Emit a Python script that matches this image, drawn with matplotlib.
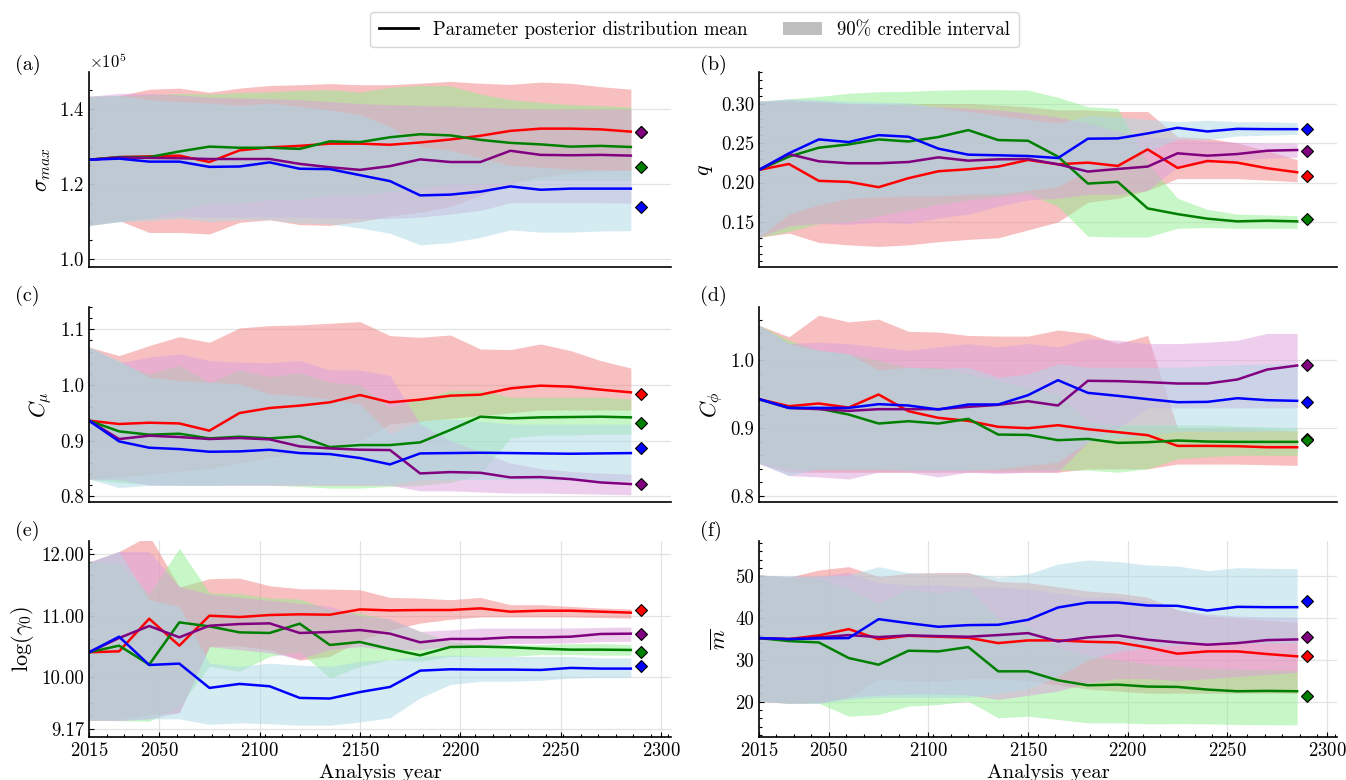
import numpy as np
import matplotlib
matplotlib.use("Agg")
import matplotlib.pyplot as plt
from matplotlib.lines import Line2D
from matplotlib.patches import Patch
from matplotlib.ticker import AutoMinorLocator, MultipleLocator, ScalarFormatter

plt.rcParams.update({
    "font.family": "serif",
    "font.serif": ["cmr10"],
    "mathtext.fontset": "cm",
    "axes.formatter.use_mathtext": True,
    "axes.unicode_minus": False,
})

# ---------------------------------------------------------------- data
years = [2015, 2030, 2045, 2060, 2075, 2090, 2105, 2120, 2135, 2150,
         2165, 2180, 2195, 2210, 2225, 2240, 2255, 2270, 2285]
truth_year = 2290
scenarios = ["red", "green", "purple", "blue"]

# (a) sigma_max, in units of 1e5
sigma_scale = 1e5
sigma_mean = {
    "red":    [1.265, 1.272, 1.274, 1.276, 1.259, 1.290, 1.298, 1.302, 1.308, 1.308, 1.305, 1.311, 1.319, 1.329, 1.342, 1.348, 1.348, 1.346, 1.340],
    "green":  [1.265, 1.272, 1.272, 1.287, 1.300, 1.297, 1.297, 1.294, 1.314, 1.312, 1.325, 1.333, 1.330, 1.318, 1.310, 1.306, 1.300, 1.302, 1.299],
    "purple": [1.265, 1.271, 1.270, 1.269, 1.267, 1.267, 1.267, 1.254, 1.245, 1.238, 1.248, 1.266, 1.259, 1.259, 1.289, 1.278, 1.277, 1.278, 1.276],
    "blue":   [1.265, 1.268, 1.260, 1.260, 1.246, 1.247, 1.258, 1.241, 1.240, 1.224, 1.208, 1.170, 1.172, 1.180, 1.194, 1.185, 1.188, 1.188, 1.188],
}
sigma_hi = {
    "red":    [1.434, 1.436, 1.453, 1.456, 1.445, 1.456, 1.463, 1.465, 1.468, 1.465, 1.465, 1.469, 1.474, 1.469, 1.466, 1.472, 1.469, 1.460, 1.453],
    "green":  [1.434, 1.436, 1.438, 1.442, 1.440, 1.444, 1.446, 1.450, 1.452, 1.445, 1.458, 1.463, 1.462, 1.440, 1.425, 1.418, 1.412, 1.409, 1.406],
    "purple": [1.434, 1.442, 1.442, 1.438, 1.432, 1.430, 1.428, 1.425, 1.420, 1.415, 1.412, 1.410, 1.408, 1.405, 1.402, 1.400, 1.400, 1.400, 1.400],
    "blue":   [1.434, 1.436, 1.425, 1.420, 1.416, 1.410, 1.416, 1.407, 1.398, 1.385, 1.354, 1.300, 1.290, 1.270, 1.250, 1.245, 1.240, 1.238, 1.237],
}
sigma_lo = {
    "red":    [1.090, 1.103, 1.071, 1.071, 1.067, 1.098, 1.105, 1.092, 1.090, 1.100, 1.115, 1.125, 1.140, 1.170, 1.200, 1.220, 1.230, 1.235, 1.237],
    "green":  [1.090, 1.100, 1.110, 1.130, 1.150, 1.150, 1.160, 1.160, 1.170, 1.170, 1.180, 1.190, 1.200, 1.200, 1.205, 1.210, 1.210, 1.210, 1.210],
    "purple": [1.090, 1.100, 1.110, 1.115, 1.112, 1.112, 1.112, 1.112, 1.110, 1.108, 1.108, 1.112, 1.120, 1.130, 1.150, 1.150, 1.150, 1.150, 1.149],
    "blue":   [1.090, 1.100, 1.103, 1.109, 1.100, 1.105, 1.105, 1.096, 1.094, 1.083, 1.069, 1.038, 1.044, 1.058, 1.078, 1.072, 1.072, 1.075, 1.076],
}
sigma_true = {"red": 1.340, "green": 1.245, "purple": 1.340, "blue": 1.140}

# (b) q
q_mean = {
    "red":    [0.216, 0.2235, 0.2021, 0.2008, 0.1941, 0.2055, 0.2143, 0.2168, 0.2202, 0.2286, 0.2231, 0.2252, 0.2210, 0.2420, 0.2185, 0.2273, 0.2252, 0.2181, 0.2130],
    "green":  [0.216, 0.2328, 0.2441, 0.2483, 0.2546, 0.2520, 0.2576, 0.2664, 0.2538, 0.2529, 0.2328, 0.1987, 0.2008, 0.1672, 0.1600, 0.1542, 0.1508, 0.1517, 0.1508],
    "purple": [0.216, 0.2361, 0.2269, 0.2244, 0.2244, 0.2260, 0.2319, 0.2277, 0.2294, 0.2298, 0.2231, 0.2139, 0.2172, 0.2202, 0.2370, 0.2340, 0.2361, 0.2403, 0.2412],
    "blue":   [0.216, 0.2370, 0.2546, 0.2513, 0.2600, 0.2580, 0.2429, 0.2353, 0.2345, 0.2336, 0.2310, 0.2555, 0.2559, 0.2622, 0.2693, 0.2647, 0.2680, 0.2676, 0.2676],
}
q_hi = {
    "red":    [0.303, 0.303, 0.302, 0.300, 0.298, 0.300, 0.300, 0.300, 0.298, 0.296, 0.292, 0.292, 0.290, 0.290, 0.258, 0.256, 0.250, 0.240, 0.229],
    "green":  [0.303, 0.306, 0.309, 0.313, 0.315, 0.3155, 0.317, 0.3176, 0.3176, 0.317, 0.308, 0.296, 0.294, 0.225, 0.180, 0.166, 0.160, 0.159, 0.158],
    "purple": [0.303, 0.305, 0.303, 0.300, 0.300, 0.298, 0.296, 0.294, 0.292, 0.288, 0.283, 0.275, 0.265, 0.258, 0.255, 0.253, 0.251, 0.250, 0.250],
    "blue":   [0.303, 0.306, 0.305, 0.303, 0.302, 0.301, 0.295, 0.290, 0.285, 0.280, 0.275, 0.285, 0.283, 0.280, 0.277, 0.279, 0.277, 0.277, 0.276],
}
q_lo = {
    "red":    [0.1307, 0.136, 0.124, 0.121, 0.119, 0.121, 0.125, 0.128, 0.130, 0.140, 0.150, 0.175, 0.180, 0.190, 0.205, 0.205, 0.205, 0.203, 0.201],
    "green":  [0.1307, 0.138, 0.148, 0.150, 0.158, 0.165, 0.172, 0.178, 0.182, 0.186, 0.170, 0.132, 0.131, 0.131, 0.142, 0.143, 0.142, 0.142, 0.142],
    "purple": [0.1307, 0.145, 0.148, 0.147, 0.150, 0.148, 0.155, 0.160, 0.170, 0.178, 0.180, 0.185, 0.185, 0.190, 0.220, 0.225, 0.228, 0.231, 0.232],
    "blue":   [0.1307, 0.160, 0.172, 0.180, 0.182, 0.183, 0.183, 0.185, 0.185, 0.190, 0.195, 0.215, 0.225, 0.240, 0.255, 0.254, 0.259, 0.260, 0.261],
}
q_true = {"red": 0.2084, "green": 0.1538, "purple": 0.2403, "blue": 0.268}

# (c) C_mu
cmu_mean = {
    "red":    [0.936, 0.930, 0.9323, 0.931, 0.918, 0.9497, 0.9587, 0.963, 0.9689, 0.982, 0.9689, 0.9737, 0.9808, 0.9826, 0.994, 0.9988, 0.997, 0.9916, 0.9868],
    "green":  [0.936, 0.9168, 0.9108, 0.9126, 0.9042, 0.9072, 0.9042, 0.9078, 0.8886, 0.8922, 0.8922, 0.897, 0.9192, 0.9431, 0.9401, 0.9419, 0.9425, 0.9431, 0.9419],
    "purple": [0.936, 0.903, 0.909, 0.9066, 0.903, 0.9048, 0.9024, 0.8898, 0.8862, 0.8838, 0.8832, 0.8413, 0.8437, 0.8425, 0.8341, 0.8347, 0.8311, 0.8251, 0.8222],
    "blue":   [0.936, 0.8988, 0.8874, 0.885, 0.8802, 0.8808, 0.8838, 0.8778, 0.876, 0.8689, 0.8575, 0.8772, 0.8778, 0.8784, 0.8778, 0.8772, 0.8766, 0.8772, 0.8778],
}
cmu_hi = {
    "red":    [1.068, 1.0527, 1.0707, 1.0868, 1.0766, 1.1024, 1.1066, 1.1078, 1.1108, 1.1138, 1.0886, 1.0856, 1.0898, 1.0647, 1.0635, 1.0737, 1.0617, 1.0437, 1.0305],
    "green":  [1.068, 1.040, 1.020, 1.035, 1.005, 1.027, 1.015, 1.022, 1.005, 1.000, 0.960, 0.975, 0.990, 0.990, 0.978, 0.978, 0.978, 0.978, 0.975],
    "purple": [1.068, 1.040, 1.050, 1.056, 1.044, 1.041, 1.040, 1.044, 1.027, 1.027, 1.017, 0.930, 0.900, 0.880, 0.860, 0.850, 0.845, 0.842, 0.840],
    "blue":   [1.068, 1.044, 1.014, 1.008, 1.005, 1.002, 0.984, 0.981, 0.975, 0.966, 0.912, 0.936, 0.939, 0.935, 0.930, 0.930, 0.930, 0.930, 0.930],
}
cmu_lo = {
    "red":    [0.831, 0.835, 0.840, 0.845, 0.850, 0.860, 0.870, 0.880, 0.890, 0.900, 0.930, 0.935, 0.940, 0.945, 0.950, 0.955, 0.955, 0.955, 0.955],
    "green":  [0.831, 0.825, 0.822, 0.820, 0.820, 0.820, 0.820, 0.818, 0.815, 0.815, 0.818, 0.820, 0.825, 0.840, 0.905, 0.910, 0.910, 0.912, 0.912],
    "purple": [0.831, 0.830, 0.820, 0.820, 0.820, 0.820, 0.820, 0.820, 0.820, 0.820, 0.820, 0.810, 0.810, 0.808, 0.806, 0.806, 0.805, 0.804, 0.803],
    "blue":   [0.831, 0.816, 0.820, 0.820, 0.820, 0.822, 0.822, 0.822, 0.822, 0.822, 0.822, 0.830, 0.830, 0.830, 0.830, 0.830, 0.829, 0.828, 0.828],
}
cmu_true = {"red": 0.9838, "green": 0.9311, "purple": 0.8222, "blue": 0.8868}

# (d) C_phi
cphi_mean = {
    "red":    [0.9429, 0.9325, 0.9365, 0.9305, 0.9498, 0.9251, 0.9153, 0.9108, 0.902, 0.900, 0.9044, 0.8985, 0.8941, 0.8897, 0.8739, 0.8739, 0.8734, 0.8719, 0.8719],
    "green":  [0.9429, 0.930, 0.929, 0.9202, 0.9069, 0.9103, 0.9069, 0.9138, 0.8906, 0.8901, 0.8823, 0.8842, 0.8783, 0.8793, 0.8818, 0.8803, 0.8798, 0.8798, 0.8798],
    "purple": [0.9429, 0.930, 0.9281, 0.9256, 0.9281, 0.9281, 0.9281, 0.9315, 0.9345, 0.9399, 0.9335, 0.970, 0.9695, 0.968, 0.966, 0.966, 0.9719, 0.9867, 0.9926],
    "blue":   [0.9429, 0.930, 0.930, 0.930, 0.9355, 0.9335, 0.9276, 0.935, 0.935, 0.9488, 0.9709, 0.9522, 0.9478, 0.9429, 0.9384, 0.9389, 0.9443, 0.9414, 0.9404],
}
cphi_hi = {
    "red":    [1.052, 1.035, 1.067, 1.057, 1.061, 1.043, 1.042, 1.037, 1.036, 1.036, 1.045, 1.040, 1.025, 1.037, 0.900, 0.900, 0.900, 0.898, 0.896],
    "green":  [1.052, 1.030, 1.015, 1.010, 1.000, 0.990, 0.990, 0.980, 0.970, 0.960, 0.950, 0.910, 0.905, 0.905, 0.905, 0.905, 0.903, 0.902, 0.900],
    "purple": [1.052, 1.025, 1.027, 1.025, 1.020, 1.015, 1.020, 1.025, 1.020, 1.025, 1.020, 1.032, 1.030, 1.025, 1.025, 1.027, 1.030, 1.040, 1.040],
    "blue":   [1.052, 1.025, 1.015, 1.010, 0.986, 0.990, 0.988, 0.990, 0.975, 0.980, 0.995, 0.990, 0.990, 0.990, 0.990, 0.992, 0.994, 0.995, 0.995],
}
cphi_lo = {
    "red":    [0.848, 0.835, 0.835, 0.835, 0.835, 0.835, 0.835, 0.835, 0.835, 0.835, 0.835, 0.840, 0.840, 0.840, 0.847, 0.847, 0.847, 0.846, 0.845],
    "green":  [0.848, 0.840, 0.838, 0.838, 0.838, 0.838, 0.838, 0.838, 0.838, 0.838, 0.838, 0.838, 0.835, 0.840, 0.855, 0.858, 0.860, 0.860, 0.860],
    "purple": [0.848, 0.830, 0.828, 0.825, 0.835, 0.835, 0.828, 0.835, 0.833, 0.835, 0.835, 0.880, 0.900, 0.930, 0.930, 0.930, 0.930, 0.930, 0.930],
    "blue":   [0.848, 0.830, 0.840, 0.840, 0.840, 0.838, 0.838, 0.838, 0.840, 0.845, 0.850, 0.880, 0.885, 0.890, 0.895, 0.895, 0.895, 0.896, 0.896],
}
cphi_true = {"red": 0.884, "green": 0.8833, "purple": 0.9931, "blue": 0.9389}

# (e) log(gamma_0)
lg_mean = {
    "red":    [10.407, 10.423, 10.951, 10.515, 11.000, 10.978, 11.011, 11.022, 11.016, 11.102, 11.086, 11.092, 11.092, 11.119, 11.065, 11.081, 11.081, 11.065, 11.049],
    "green":  [10.407, 10.515, 10.208, 10.892, 10.827, 10.730, 10.720, 10.871, 10.526, 10.574, 10.461, 10.358, 10.493, 10.499, 10.488, 10.466, 10.450, 10.450, 10.445],
    "purple": [10.407, 10.639, 10.833, 10.650, 10.838, 10.865, 10.876, 10.720, 10.736, 10.768, 10.709, 10.569, 10.623, 10.623, 10.650, 10.650, 10.660, 10.704, 10.709],
    "blue":   [10.407, 10.660, 10.202, 10.224, 9.830, 9.895, 9.857, 9.668, 9.658, 9.763, 9.846, 10.110, 10.132, 10.127, 10.127, 10.121, 10.154, 10.143, 10.143],
}
lg_hi = {
    "red":    [11.868, 12.040, 12.300, 11.464, 11.598, 11.609, 11.485, 11.437, 11.431, 11.420, 11.296, 11.286, 11.259, 11.296, 11.178, 11.178, 11.151, 11.124, 11.108],
    "green":  [11.868, 11.850, 11.350, 12.094, 11.370, 11.356, 11.286, 11.270, 11.097, 11.040, 10.935, 10.747, 10.585, 10.531, 10.531, 10.531, 10.547, 10.547, 10.530],
    "purple": [11.868, 12.040, 12.040, 11.474, 11.350, 11.300, 11.250, 11.200, 11.150, 11.000, 10.950, 10.747, 10.770, 10.800, 10.800, 10.800, 10.800, 10.810, 10.817],
    "blue":   [11.868, 12.040, 11.260, 11.150, 10.230, 10.180, 10.230, 10.200, 10.180, 10.260, 10.290, 10.340, 10.360, 10.340, 10.340, 10.340, 10.340, 10.315, 10.315],
}
lg_lo = {
    "red":    [9.307, 9.318, 9.400, 9.430, 10.500, 10.510, 10.450, 10.280, 10.340, 10.600, 10.770, 10.880, 10.940, 10.980, 10.980, 10.980, 10.980, 10.970, 10.960],
    "green":  [9.307, 9.300, 9.290, 9.530, 10.180, 10.100, 10.340, 10.420, 9.990, 10.180, 10.290, 10.260, 10.340, 10.340, 10.340, 10.370, 10.370, 10.360, 10.360],
    "purple": [9.307, 9.300, 9.330, 9.430, 10.500, 10.450, 10.400, 10.300, 10.450, 10.500, 10.450, 10.450, 10.500, 10.500, 10.550, 10.550, 10.560, 10.580, 10.585],
    "blue":   [9.307, 9.310, 9.330, 9.330, 9.240, 9.264, 9.250, 9.226, 9.226, 9.280, 9.345, 9.668, 9.884, 9.938, 9.938, 9.954, 9.990, 10.000, 10.000],
}
lg_true = {"red": 11.092, "green": 10.407, "purple": 10.709, "blue": 10.181}

# (f) mean m
m_mean = {
    "red":    [35.22, 34.98, 35.86, 37.37, 34.98, 35.78, 35.54, 35.30, 34.02, 34.66, 34.66, 34.34, 34.18, 32.99, 31.47, 32.03, 32.03, 31.39, 30.84],
    "green":  [35.22, 34.50, 34.18, 30.44, 28.84, 32.19, 32.03, 33.07, 27.25, 27.25, 25.10, 23.90, 24.06, 23.59, 23.51, 22.87, 22.47, 22.55, 22.47],
    "purple": [35.22, 34.98, 35.38, 35.94, 35.46, 35.86, 35.70, 35.54, 35.94, 36.41, 34.42, 35.38, 35.86, 34.82, 34.18, 33.63, 34.02, 34.74, 34.90],
    "blue":   [35.22, 34.98, 35.14, 35.22, 39.76, 38.80, 37.93, 38.33, 38.41, 39.60, 42.55, 43.75, 43.75, 43.03, 42.95, 41.83, 42.71, 42.63, 42.63],
}
m_hi = {
    "red":    [50.36, 49.80, 51.55, 52.35, 49.96, 50.76, 50.92, 50.92, 48.77, 48.50, 47.50, 46.50, 46.00, 45.00, 42.00, 40.50, 40.00, 39.50, 39.00],
    "green":  [50.36, 49.80, 49.50, 47.00, 43.50, 47.00, 46.00, 47.00, 40.00, 38.00, 33.00, 31.00, 30.00, 29.00, 28.50, 28.00, 27.80, 27.60, 27.50],
    "purple": [50.36, 50.00, 50.00, 51.00, 48.50, 48.00, 48.00, 47.50, 47.50, 47.00, 46.00, 45.00, 45.00, 44.00, 42.00, 41.00, 40.50, 40.30, 40.20],
    "blue":   [50.36, 50.12, 50.12, 50.36, 52.35, 50.92, 50.76, 50.76, 49.80, 50.60, 52.99, 53.94, 53.55, 52.75, 52.51, 51.39, 52.11, 51.95, 51.87],
}
m_lo = {
    "red":    [20.08, 19.60, 19.80, 21.00, 25.50, 25.00, 24.80, 25.50, 25.50, 25.00, 24.00, 23.00, 22.50, 22.00, 22.00, 22.00, 22.00, 22.00, 22.00],
    "green":  [20.08, 19.60, 19.60, 16.49, 16.90, 18.90, 19.30, 20.10, 16.10, 16.50, 15.70, 14.90, 14.90, 14.66, 14.70, 14.66, 14.50, 14.45, 14.42],
    "purple": [20.08, 19.60, 19.70, 21.00, 21.50, 21.80, 21.80, 21.60, 20.50, 21.50, 22.50, 24.50, 25.50, 25.50, 25.00, 25.50, 26.00, 26.50, 27.00],
    "blue":   [20.08, 19.60, 19.60, 20.50, 21.00, 21.00, 21.00, 21.00, 22.00, 23.00, 26.00, 30.00, 32.00, 33.00, 33.50, 34.00, 34.00, 34.00, 34.00],
}
m_true = {"red": 31.0, "green": 21.27, "purple": 35.38, "blue": 44.14}

x_ticks = [2015, 2050, 2100, 2150, 2200, 2250, 2300]
q_ticks = [0.15, 0.20, 0.25, 0.30]
lg_ticks = [9.17, 10.0, 11.0, 12.0]
lg_tick_labels = ["9.17", "10.00", "11.00", "12.00"]

# ---------------------------------------------------------------- style
line_color = {"red": "red", "green": "green", "purple": "purple", "blue": "blue"}
band_color = {"red": "lightcoral", "green": "lightgreen", "purple": "plum", "blue": "lightblue"}
grid_kw = dict(color="#e3e3e3", linewidth=0.9)

W, H = 1346, 780
fig = plt.figure(figsize=(W / 100, H / 100), dpi=100)


def px_axes(x0, y0, x1, y1):
    return fig.add_axes([x0 / W, 1 - y1 / H, (x1 - x0) / W, (y1 - y0) / H])


cols = [(89, 671), (759, 1337)]
rows = [(72, 267), (307, 502), (541, 737)]


def draw_panel(ax, mean, lo, hi, truth, scale=1.0):
    for s in scenarios:
        ax.fill_between(years, np.asarray(lo[s]) * scale, np.asarray(hi[s]) * scale,
                        color=band_color[s], alpha=0.5, linewidth=0)
    for s in scenarios:
        ax.plot(years, np.asarray(mean[s]) * scale, color=line_color[s], lw=1.8)
    for s in scenarios:
        ax.plot([truth_year], [truth[s] * scale], ls="none", marker="D", ms=6.5,
                mfc=line_color[s], mec="black", mew=0.8, zorder=5)


def style_axes(ax, bottom_row):
    for side in ("top", "right"):
        ax.spines[side].set_visible(False)
    for side in ("left", "bottom"):
        ax.spines[side].set_linewidth(1.2)
    ax.set_axisbelow(True)
    ax.set_xlim(2015, 2305)
    ax.set_xticks(x_ticks)
    ax.xaxis.set_minor_locator(AutoMinorLocator())
    ax.tick_params(which="both", direction="in", labelsize=13.5, width=0.8)
    ax.tick_params(which="major", length=3.5)
    ax.tick_params(which="minor", length=2)
    ax.yaxis.grid(True, which="major", **grid_kw)
    if bottom_row:
        ax.xaxis.grid(True, which="major", **grid_kw)
        ax.set_xlabel("Analysis year", fontsize=15, labelpad=3)
    else:
        ax.tick_params(axis="x", which="both", bottom=False, labelbottom=False)


panels = [
    ("(a)", r"$\sigma_{max}$", sigma_mean, sigma_lo, sigma_hi, sigma_true, sigma_scale, (0.979e5, 1.499e5)),
    ("(b)", r"$q$", q_mean, q_lo, q_hi, q_true, 1.0, (0.093, 0.340)),
    ("(c)", r"$C_{\mu}$", cmu_mean, cmu_lo, cmu_hi, cmu_true, 1.0, (0.790, 1.140)),
    ("(d)", r"$C_{\phi}$", cphi_mean, cphi_lo, cphi_hi, cphi_true, 1.0, (0.791, 1.079)),
    ("(e)", r"$\log(\gamma_0)$", lg_mean, lg_lo, lg_hi, lg_true, 1.0, (9.035, 12.21)),
    ("(f)", r"$\overline{m}$", m_mean, m_lo, m_hi, m_true, 1.0, (11.5, 58.5)),
]

label_px = [(15, 65), (700, 65), (15, 296), (700, 296), (15, 531), (700, 531)]

for i, (tag, ylab, mean, lo, hi, truth, scale, ylim) in enumerate(panels):
    r, c = divmod(i, 2)
    (x0, x1), (y0, y1) = cols[c], rows[r]
    ax = px_axes(x0, y0, x1, y1)
    draw_panel(ax, mean, lo, hi, truth, scale)
    style_axes(ax, bottom_row=(r == 2))
    ax.set_ylabel(ylab, fontsize=16)
    lx, ly = label_px[i]
    fig.text(lx / W, 1 - ly / H, tag, fontsize=14.5, ha="left", va="center")

    if tag == "(a)":
        ax.yaxis.set_major_locator(MultipleLocator(0.2e5))
        fmt = ScalarFormatter(useMathText=True)
        fmt.set_powerlimits((0, 0))
        ax.yaxis.set_major_formatter(fmt)
        ax.yaxis.get_offset_text().set_fontsize(12)
    elif tag == "(b)":
        ax.set_yticks(q_ticks, [f"{v:.2f}" for v in q_ticks])
    elif tag in ("(c)", "(d)"):
        ax.yaxis.set_major_locator(MultipleLocator(0.1))
        ax.yaxis.set_major_formatter("{x:.1f}")
    elif tag == "(e)":
        ax.set_yticks(lg_ticks, lg_tick_labels)
    elif tag == "(f)":
        ax.yaxis.set_major_locator(MultipleLocator(10))
        ax.yaxis.set_major_formatter("{x:.0f}")
    ax.yaxis.set_minor_locator(AutoMinorLocator())
    ax.set_ylim(*ylim)

handles = [
    Line2D([0], [0], color="black", lw=2),
    Patch(facecolor="gray", alpha=0.5, edgecolor="none"),
]
fig.legend(handles, ["Parameter posterior distribution mean", "90% credible interval"],
           loc="upper center", bbox_to_anchor=(0.516, 0.996), ncol=2, fontsize=13.5,
           frameon=True, handlelength=2.1, columnspacing=1.9, borderpad=0.45)

fig.savefig("out.png", dpi=100)
